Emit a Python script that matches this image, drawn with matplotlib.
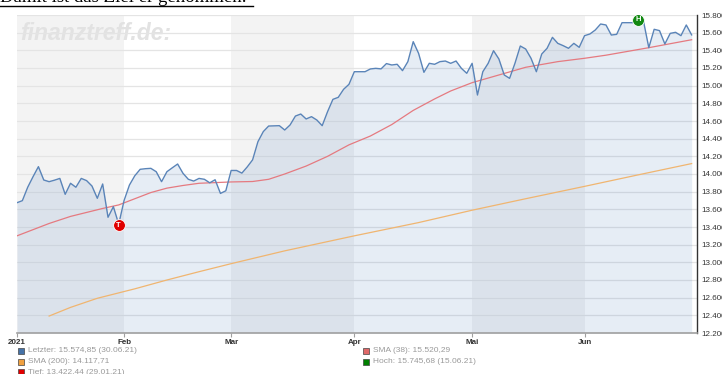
import numpy as np
import matplotlib
matplotlib.use("Agg")
import matplotlib.pyplot as plt
from matplotlib.lines import Line2D

plt.rcParams['font.family'] = ['Liberation Sans', 'DejaVu Sans']

# daily closes, index = trading day since 2021-01-04
price = [13675, 13698, 13850, 13970, 14083, 13932, 13913, 13930, 13950, 13770,
         13895, 13850, 13950, 13925, 13864, 13725, 13887, 13510, 13630, 13432,
         13700, 13875, 13980, 14053, 14060, 14064, 14026, 13913, 14026, 14070,
         14113, 14008, 13940, 13920, 13950, 13940, 13900, 13935, 13780, 13810,
         14040, 14040, 14010, 14080, 14160, 14366, 14480, 14543, 14545, 14547,
         14498, 14555, 14656, 14679, 14623, 14649, 14611, 14547, 14705, 14845,
         14868, 14959, 15015, 15158, 15158, 15158, 15189, 15196, 15190, 15250,
         15234, 15242, 15170, 15272, 15498, 15366, 15151, 15253, 15242, 15272,
         15279, 15253, 15279, 15196, 15140, 15253, 14894, 15158, 15253, 15396,
         15302, 15121, 15083, 15253, 15449, 15415, 15310, 15158, 15358, 15423,
         15547, 15479, 15453, 15423, 15479, 15434, 15566, 15585, 15630, 15698,
         15687, 15573, 15581, 15713, 15713, 15713, 15745, 15732, 15430, 15638,
         15623, 15472, 15592, 15604, 15566, 15687, 15575]

sma38_idx = [0, 3, 6, 10, 13, 16, 19, 22, 25, 28, 31, 34, 40, 44, 47, 50, 54, 58, 62,
             66, 70, 74, 78, 81, 85, 90, 95, 101, 106, 110, 118, 126]
sma38_val = [13300, 13370, 13440, 13520, 13565, 13610, 13650, 13720, 13790, 13840, 13870, 13895,
             13910, 13915, 13940, 14000, 14090, 14200, 14330, 14430, 14560, 14720, 14850, 14940,
             15034, 15121, 15208, 15272, 15310, 15345, 15430, 15520]

sma200_idx = [6, 10, 15, 22, 28, 34, 40, 50, 63, 75, 85, 95, 106, 116, 126]
sma200_val = [12392, 12490, 12593, 12700, 12800, 12894, 12985, 13130, 13300, 13450, 13590,
              13720, 13860, 13990, 14118]

month_start = [0, 20, 40, 63, 85, 106]
month_names = ['2021', 'Feb', 'Mar', 'Apr', 'Mai', 'Jun']
n_end = 127

low_idx, low_val = 19, 13422.44
high_idx, high_val = 116, 15745.68

legend_left = [('Letzter: 15.574,85 (30.06.21)', '#4572a7'),
               ('SMA (200): 14.117,71', '#f0a040'),
               ('Tief: 13.422,44 (29.01.21)', '#e00000')]
legend_right = [('SMA (38): 15.520,29', '#e06868'),
                ('Hoch: 15.745,68 (15.06.21)', '#008000')]

W, H = 722, 374
fig = plt.figure(figsize=(W / 100, H / 100), dpi=100)
ax = fig.add_axes([17 / W, 1 - 333 / H, 680 / W, 318 / H])

x = np.arange(len(price))
ymin, ymax = 12200, 15800

# alternating month bands
for k in range(0, len(month_start), 2):
    ax.axvspan(month_start[k], month_start[k + 1], color='#f3f3f3', lw=0, zorder=0)

ax.set_yticks(np.arange(ymin, ymax + 1, 200))
ax.grid(axis='y', color='#e4e4e4', lw=0.9, zorder=1)
ax.set_axisbelow(True)

ax.text(0.5, 15595, 'finanztreff.de:', fontsize=16.5, fontweight='bold',
        fontstyle='italic', color='#e2e2e2', va='center', ha='left', zorder=0.5)

ax.fill_between(x, price, ymin, color='#4f80bd', alpha=0.14, lw=0, zorder=2)
ax.plot(x, price, color='#5a84b8', lw=1.0, zorder=4)
ax.plot(sma38_idx, sma38_val, color='#e57a80', lw=0.9, zorder=3)
ax.plot(sma200_idx, sma200_val, color='#f0b570', lw=0.9, zorder=3)

for xi, yi, c, letter in [(low_idx, low_val, '#e00000', 'T'), (high_idx, high_val, '#118811', 'H')]:
    ax.plot(xi, yi, 'o', ms=8.5, color=c, mec='white', mew=0.6, zorder=6)
    ax.text(xi, yi, letter, color='white', fontsize=5.5, fontweight='bold',
            ha='center', va='center', zorder=7)

ax.set_xlim(0, n_end)
ax.set_ylim(ymin, ymax)

for s in ['top', 'left']:
    ax.spines[s].set_visible(False)
ax.spines['right'].set_color('#333333')
ax.spines['right'].set_linewidth(1.0)
ax.spines['bottom'].set_color('#a0a0a0')
ax.spines['bottom'].set_linewidth(1.2)

ax.yaxis.tick_right()
ax.set_yticklabels([f'{v:,.0f}'.replace(',', '.') for v in np.arange(ymin, ymax + 1, 200)])
ax.tick_params(axis='y', length=0, pad=3, labelsize=5.8, labelcolor='#333333')
ax.set_xticks(month_start)
ax.set_xticklabels(month_names, fontweight='bold')
ax.tick_params(axis='x', length=3, color='#a0a0a0', pad=1, labelsize=5.8, labelcolor='#333333')

# legend rows under the chart
def legend_row(px, py, label, color):
    fig.add_artist(Line2D([px / W], [1 - py / H], marker='s', ms=5, color=color,
                          mec='#444444', mew=0.5, ls='none'))
    fig.text((px + 7) / W, 1 - py / H, label, fontsize=6.0, color='#9a9a9a', va='center', ha='left')

for k, (lab, c) in enumerate(legend_left):
    legend_row(21, 351 + k * 10.7, lab, c)
for k, (lab, c) in enumerate(legend_right):
    legend_row(366, 351 + k * 10.7, lab, c)

# cut-off headline from the page above
fig.text(0, 1 - 1.5 / H, 'Damit ist das Ziel er genommen.', family='Liberation Serif',
         fontsize=13.5, color='black', ha='left', va='baseline')
fig.add_artist(Line2D([0, 253 / W], [1 - 5.5 / H] * 2, color='black', lw=1.0))

fig.savefig('out.png', dpi=100)
